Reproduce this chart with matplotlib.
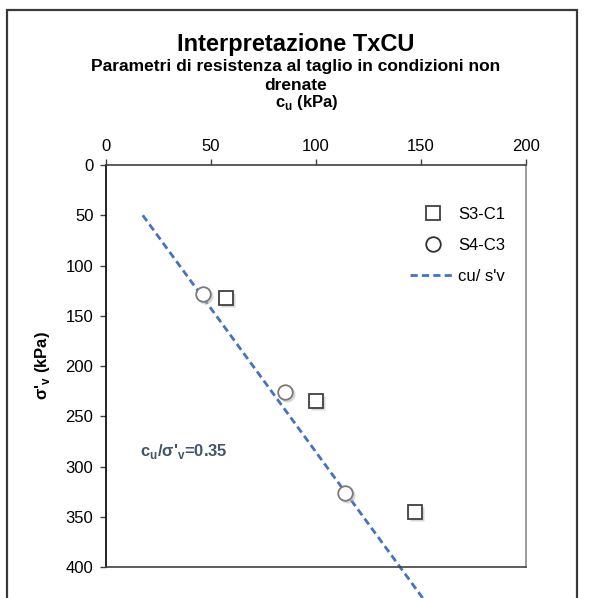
import matplotlib
matplotlib.use("Agg")
import matplotlib.pyplot as plt
import matplotlib.transforms as mtransforms
from matplotlib.patches import Rectangle
import numpy as np

plt.rcParams['font.family'] = ['Liberation Sans', 'DejaVu Sans']

# Undrained strength vs vertical effective stress
s3_cu = [57, 100, 147]
s3_sv = [132, 235, 345]
s4_cu = [46, 85, 114]
s4_sv = [128, 226, 326]
ratio = 0.35
trend_sv = [50, 450]

W, H = 589, 598
fig = plt.figure(figsize=(W / 100, H / 100), dpi=100)

# outer chart border
fig.add_artist(Rectangle((7 / W, -0.1), 570 / W, (H - 10) / H + 0.1,
                         transform=fig.transFigure, fill=False,
                         edgecolor='#3a3a3a', lw=1.6))

ax = fig.add_axes([106 / W, (H - 567) / H, 420 / W, 402 / H])
ax.set_xlim(0, 200)
ax.set_ylim(400, 0)
ax.set_xticks([0, 50, 100, 150, 200])
ax.set_yticks([0, 50, 100, 150, 200, 250, 300, 350, 400])
ax.xaxis.tick_top()
ax.tick_params(axis='both', labelsize=12, length=4, width=1, color='#404040', pad=4)
ax.tick_params(axis='y', pad=5)
ax.spines['left'].set_color('black')
ax.spines['top'].set_color('#404040')
ax.spines['right'].set_color('#8a8a8a')
ax.spines['bottom'].set_color('#404040')
for s in ax.spines.values():
    s.set_linewidth(1.2)

tv = np.array(trend_sv, dtype=float)
trend, = ax.plot(tv * ratio, tv, linestyle=(0, (2.6, 1.5)), color='#4472C4', lw=2,
                 clip_on=False, label="cu/ s'v", zorder=2)

sq, = ax.plot(s3_cu, s3_sv, linestyle='none', marker='s', markersize=9.5,
              markerfacecolor='white', markeredgecolor='#404040', markeredgewidth=1.3,
              label='S3-C1', zorder=3)
ci, = ax.plot(s4_cu, s4_sv, linestyle='none', marker='o', markersize=10.5,
              markerfacecolor='white', markeredgecolor='#7a7a7a', markeredgewidth=1.3,
              label='S4-C3', zorder=3)

# soft drop shadows under the markers
for art in (sq, ci):
    sh, = ax.plot(art.get_xdata(), art.get_ydata(), linestyle='none',
                  marker=art.get_marker(), markersize=art.get_markersize() + 1,
                  markerfacecolor='#b0b0b0', markeredgecolor='none', alpha=0.5,
                  zorder=2.5)
    sh.set_transform(ax.transData + mtransforms.ScaledTranslation(
        2 / 100, -2 / 100, fig.dpi_scale_trans))

leg = ax.legend(handles=[sq, ci, trend], labels=['S3-C1', 'S4-C3', "cu/ s'v"],
                loc='upper left', bbox_to_anchor=(410 / W, (H - 207) / H),
                bbox_transform=fig.transFigure, frameon=False, fontsize=12,
                handlelength=2.7, handletextpad=0.2, labelspacing=0.95,
                borderaxespad=0, borderpad=0)
leg.legend_handles[1].set_markeredgecolor('#303030')

ax.text(16, 285, r"c$_\mathregular{u}$/σ'$_\mathregular{v}$=0.35", color='#44546A',
        fontsize=12, fontweight='bold', va='center', ha='left')

fig.text(296 / W, 1 - 45 / H, 'Interpretazione TxCU', fontsize=17,
         fontweight='bold', ha='center', va='center')
fig.text(296 / W, 1 - 67 / H, 'Parametri di resistenza al taglio in condizioni non',
         fontsize=12.5, fontweight='bold', ha='center', va='center')
fig.text(296 / W, 1 - 86 / H, 'drenate', fontsize=12.5, fontweight='bold',
         ha='center', va='center')
fig.text(307 / W, 1 - 103 / H, r"c$_\mathregular{u}$ (kPa)", fontsize=12,
         fontweight='bold', ha='center', va='center')
fig.text(42 / W, 1 - 366 / H, r"σ'$_\mathregular{v}$ (kPa)", fontsize=12,
         fontweight='bold', ha='center', va='center', rotation=90)

fig.savefig('out.png', dpi=100)
